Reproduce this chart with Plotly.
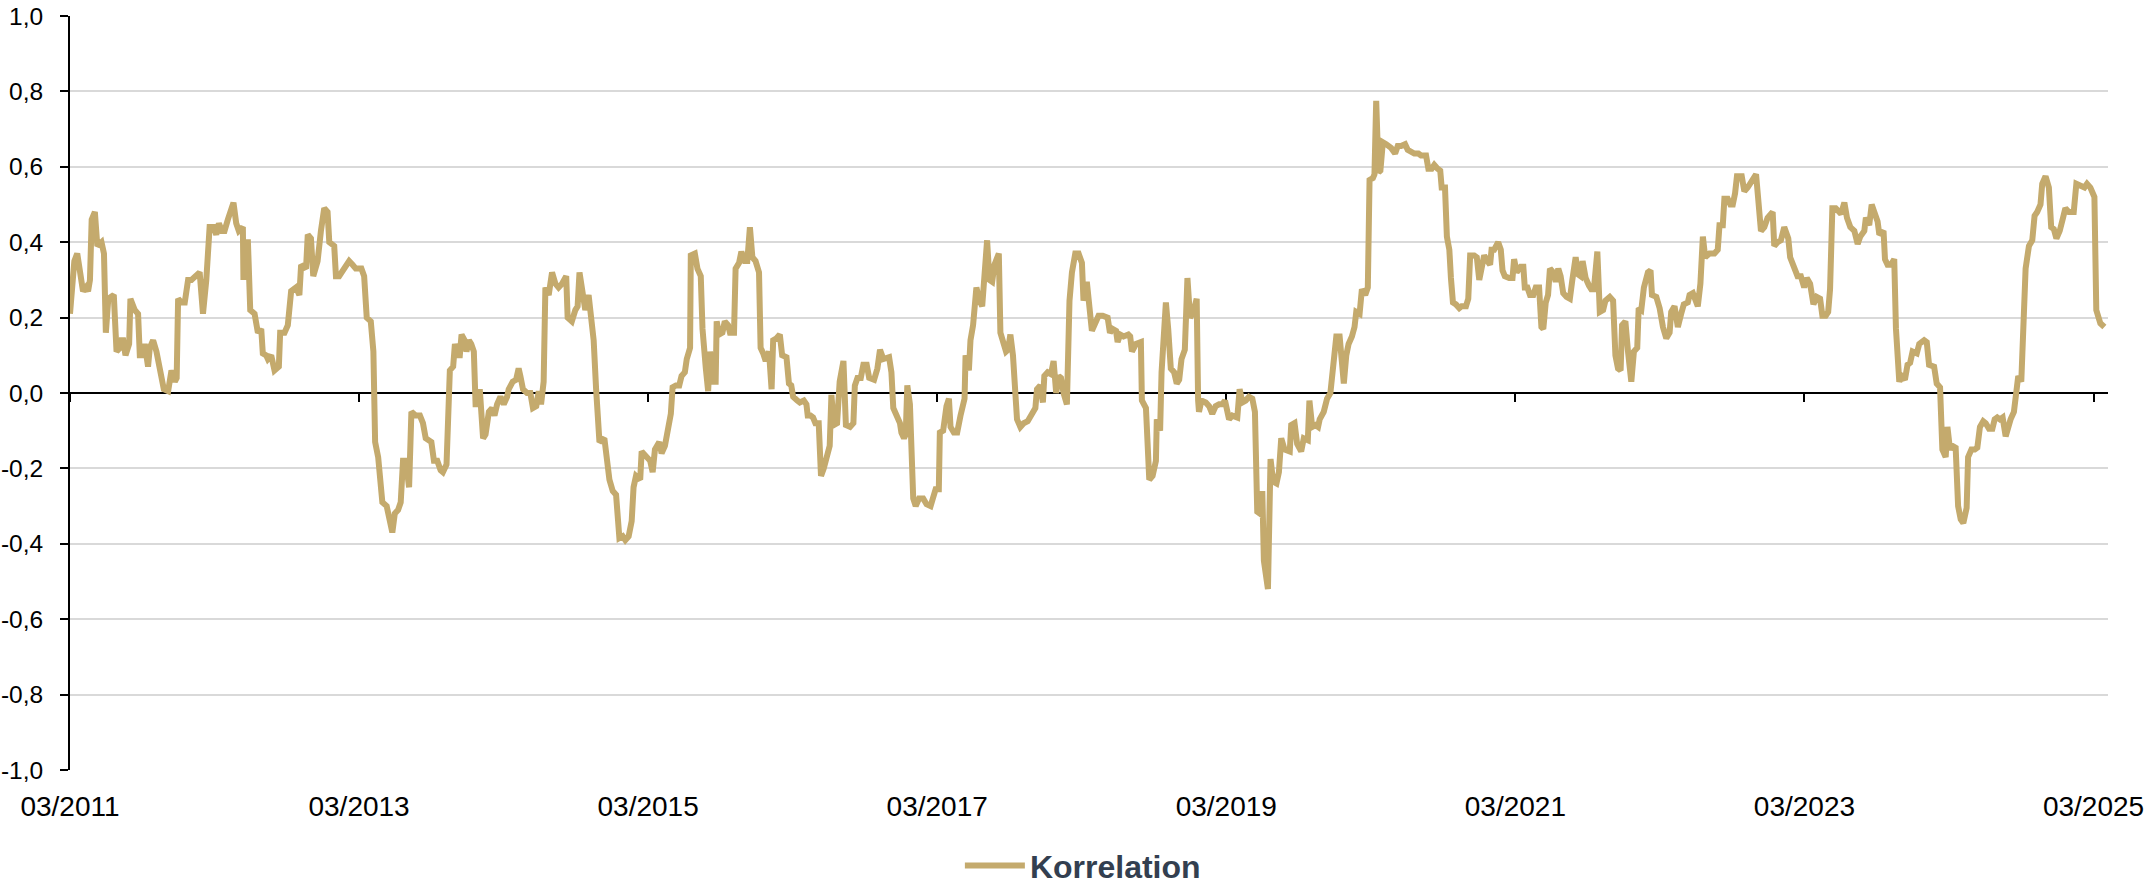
import plotly.graph_objects as go
import pandas as pd

# time in years since 03/2011 and correlation values
t_years = [
0.000,0.012,0.030,0.050,0.068,0.090,0.110,0.125,0.138,0.150,0.172,0.189,0.218,0.235,0.248,0.265,0.303,0.322,0.345,0.356,
0.368,0.384,0.409,0.418,0.448,0.471,0.483,0.506,0.517,0.540,0.552,0.575,0.598,0.626,0.649,0.679,0.702,0.725,0.738,0.748,
0.771,0.794,0.817,0.840,0.863,0.897,0.920,0.943,0.966,0.994,1.012,1.030,1.051,1.069,1.092,1.131,1.150,1.168,1.196,1.200,
1.219,1.231,1.247,1.277,1.300,1.323,1.334,1.357,1.369,1.392,1.415,1.445,1.454,1.484,1.507,1.518,1.530,1.564,1.587,1.599,
1.633,1.645,1.667,1.683,1.713,1.736,1.759,1.782,1.794,1.828,1.840,1.862,1.897,1.931,1.955,1.977,2.016,2.035,2.053,2.081,
2.099,2.111,2.132,2.150,2.161,2.191,2.219,2.230,2.247,2.270,2.288,2.304,2.323,2.346,2.362,2.392,2.421,2.442,2.461,2.500,
2.518,2.541,2.564,2.580,2.605,2.615,2.628,2.651,2.663,2.684,2.697,2.709,2.730,2.743,2.760,2.776,2.794,2.806,2.822,2.835,
2.845,2.858,2.875,2.898,2.920,2.937,2.955,2.978,3.001,3.024,3.035,3.063,3.086,3.104,3.116,3.134,3.162,3.185,3.203,3.226,
3.243,3.259,3.277,3.289,3.312,3.335,3.358,3.380,3.404,3.433,3.443,3.472,3.496,3.512,3.525,3.553,3.565,3.588,3.623,3.640,
3.663,3.697,3.715,3.732,3.755,3.778,3.801,3.824,3.842,3.865,3.886,3.899,3.916,3.945,3.955,3.985,4.014,4.031,4.047,4.077,
4.093,4.116,4.134,4.157,4.169,4.192,4.215,4.231,4.254,4.267,4.290,4.295,4.323,4.341,4.364,4.376,4.399,4.415,4.428,4.445,
4.467,4.474,4.491,4.514,4.530,4.553,4.566,4.594,4.605,4.629,4.645,4.668,4.686,4.704,4.721,4.743,4.767,4.778,4.796,4.813,
4.836,4.854,4.865,4.888,4.911,4.927,4.957,4.974,4.990,5.003,5.031,5.049,5.077,5.095,5.104,5.123,5.141,5.157,5.180,5.196,
5.215,5.238,5.256,5.268,5.284,5.307,5.325,5.351,5.368,5.397,5.420,5.430,5.448,5.471,5.489,5.512,5.529,5.563,5.586,5.604,
5.627,5.667,5.683,5.696,5.719,5.742,5.752,5.770,5.782,5.793,5.811,5.828,5.834,5.851,5.874,5.903,5.926,5.954,5.972,5.989,
6.011,6.018,6.041,6.051,6.064,6.081,6.092,6.115,6.138,6.161,6.189,6.196,6.219,6.230,6.248,6.271,6.288,6.311,6.327,6.345,
6.361,6.380,6.396,6.426,6.437,6.455,6.476,6.490,6.506,6.524,6.541,6.552,6.575,6.598,6.626,6.644,6.662,6.679,6.690,6.713,
6.731,6.741,6.764,6.787,6.805,6.823,6.840,6.856,6.874,6.897,6.915,6.932,6.955,6.978,7.001,7.012,7.035,7.053,7.070,7.093,
7.116,7.145,7.179,7.195,7.214,7.237,7.248,7.266,7.289,7.322,7.335,7.347,7.375,7.409,7.416,7.444,7.467,7.490,7.513,7.519,
7.542,7.552,7.570,7.582,7.598,7.616,7.639,7.657,7.674,7.690,7.713,7.731,7.749,7.766,7.782,7.795,7.805,7.811,7.828,7.858,
7.881,7.903,7.926,7.950,7.973,7.991,8.019,8.042,8.076,8.092,8.111,8.134,8.157,8.180,8.198,8.214,8.232,8.249,8.260,8.288,
8.306,8.324,8.347,8.364,8.380,8.403,8.439,8.449,8.472,8.490,8.518,8.536,8.564,8.575,8.594,8.617,8.635,8.646,8.674,8.697,
8.720,8.738,8.761,8.784,8.813,8.830,8.846,8.869,8.887,8.899,8.922,8.938,8.961,8.979,8.991,9.014,9.025,9.037,9.053,9.066,
9.083,9.106,9.140,9.168,9.186,9.209,9.237,9.255,9.273,9.301,9.329,9.347,9.382,9.398,9.421,9.439,9.462,9.480,9.490,9.513,
9.526,9.543,9.554,9.568,9.589,9.612,9.628,9.658,9.674,9.687,9.715,9.733,9.750,9.761,9.784,9.807,9.825,9.835,9.853,9.881,
9.899,9.911,9.927,9.957,9.980,9.991,10.009,10.037,10.055,10.065,10.083,10.101,10.124,10.141,10.164,10.180,10.193,10.210,10.226,10.239,
10.262,10.279,10.297,10.313,10.331,10.354,10.377,10.394,10.417,10.433,10.451,10.465,10.486,10.509,10.525,10.543,10.567,10.584,10.607,10.623,
10.653,10.676,10.692,10.710,10.728,10.738,10.761,10.779,10.802,10.820,10.843,10.853,10.871,10.889,10.917,10.935,10.945,10.975,10.998,11.021,
11.044,11.067,11.078,11.101,11.124,11.147,11.165,11.193,11.205,11.228,11.244,11.262,11.280,11.297,11.313,11.343,11.377,11.400,11.412,11.435,
11.446,11.469,11.487,11.504,11.520,11.533,11.566,11.584,11.607,11.642,11.665,11.681,11.699,11.722,11.745,11.780,11.791,11.814,11.837,11.860,
11.888,11.901,11.929,11.952,11.975,11.998,12.016,12.039,12.062,12.085,12.108,12.124,12.147,12.164,12.177,12.193,12.216,12.253,12.276,12.294,
12.317,12.345,12.368,12.386,12.414,12.425,12.448,12.465,12.483,12.506,12.518,12.547,12.557,12.575,12.598,12.621,12.633,12.644,12.656,12.672,
12.695,12.713,12.731,12.748,12.777,12.794,12.810,12.828,12.846,12.862,12.897,12.915,12.938,12.954,12.977,12.989,13.007,13.023,13.046,13.063,
13.081,13.099,13.122,13.132,13.155,13.178,13.196,13.214,13.237,13.254,13.277,13.300,13.316,13.334,13.352,13.371,13.392,13.408,13.426,13.449,
13.467,13.479,13.500,13.513,13.530,13.553,13.576,13.592,13.610,13.633,13.645,13.668,13.691,13.707,13.725,13.743,13.766,13.789,13.805,13.829,
13.863,13.881,13.909,13.937,13.955,13.978,14.006,14.019,14.047,14.075,
]

korrelation = [
0.21,0.28,0.35,0.37,0.31,0.27,0.28,0.27,0.30,0.46,0.48,0.39,0.40,0.37,0.16,0.25,0.26,0.11,0.12,0.14,
0.14,0.10,0.13,0.25,0.22,0.21,0.10,0.10,0.13,0.07,0.12,0.14,0.11,0.06,0.01,0.005,0.06,0.03,0.04,0.25,
0.24,0.24,0.30,0.30,0.31,0.32,0.21,0.30,0.44,0.44,0.42,0.45,0.43,0.43,0.46,0.505,0.45,0.43,0.44,0.30,
0.40,0.40,0.22,0.21,0.16,0.17,0.105,0.10,0.09,0.10,0.06,0.07,0.16,0.16,0.18,0.24,0.27,0.28,0.26,0.34,
0.33,0.42,0.41,0.31,0.35,0.43,0.49,0.48,0.40,0.39,0.31,0.31,0.33,0.35,0.34,0.33,0.33,0.31,0.20,0.19,
0.11,-0.13,-0.17,-0.24,-0.29,-0.30,-0.355,-0.37,-0.32,-0.31,-0.29,-0.18,-0.18,-0.25,-0.05,-0.06,-0.06,-0.08,-0.12,-0.13,
-0.18,-0.18,-0.205,-0.21,-0.19,-0.08,0.06,0.07,0.13,0.10,0.10,0.155,0.14,0.11,0.14,0.13,0.11,-0.03,-0.03,0.01,
-0.04,-0.12,-0.11,-0.05,-0.04,-0.06,-0.03,-0.01,-0.03,-0.01,0.01,0.03,0.035,0.065,0.045,0.01,0.0,0.0,-0.04,-0.035,
0.005,-0.03,0.03,0.28,0.26,0.32,0.29,0.28,0.29,0.31,0.20,0.19,0.22,0.23,0.32,0.25,0.22,0.26,0.14,0.01,
-0.13,-0.12,-0.18,-0.23,-0.26,-0.27,-0.385,-0.38,-0.39,-0.38,-0.34,-0.25,-0.22,-0.23,-0.155,-0.17,-0.18,-0.21,-0.15,-0.13,
-0.16,-0.14,-0.10,-0.055,0.015,0.02,0.02,0.045,0.055,0.09,0.12,0.365,0.37,0.33,0.31,0.17,0.065,0.005,0.11,0.03,
0.03,0.19,0.155,0.16,0.19,0.18,0.16,0.16,0.33,0.345,0.375,0.35,0.35,0.44,0.36,0.35,0.32,0.12,0.105,0.085,
0.11,0.01,0.14,0.145,0.155,0.10,0.095,0.025,0.02,-0.01,-0.02,-0.025,-0.02,-0.03,-0.06,-0.06,-0.065,-0.08,-0.08,-0.22,
-0.20,-0.165,-0.14,-0.005,-0.085,-0.08,0.03,0.085,-0.085,-0.09,-0.08,0.02,0.04,0.04,0.075,0.075,0.04,0.035,0.065,0.115,
0.09,0.095,0.055,-0.04,-0.06,-0.08,-0.105,-0.12,-0.11,0.02,-0.03,-0.18,-0.28,-0.30,-0.28,-0.28,-0.295,-0.30,-0.28,-0.255,
-0.255,-0.105,-0.10,-0.065,-0.035,-0.015,-0.09,-0.105,-0.105,-0.06,-0.015,0.10,0.06,0.14,0.18,0.28,0.25,0.23,0.32,0.405,
0.30,0.295,0.34,0.37,0.16,0.135,0.11,0.115,0.155,0.10,-0.005,-0.07,-0.09,-0.08,-0.075,-0.06,-0.045,-0.04,0.01,0.02,
-0.025,0.045,0.055,0.05,0.085,0.0,0.045,0.04,0.0,-0.03,0.245,0.32,0.37,0.37,0.345,0.245,0.295,0.21,0.165,0.185,
0.205,0.205,0.20,0.16,0.17,0.165,0.135,0.155,0.15,0.155,0.15,0.11,0.13,0.135,-0.02,-0.04,-0.23,-0.22,-0.18,-0.07,
-0.10,0.055,0.19,0.24,0.17,0.065,0.055,0.025,0.035,0.09,0.115,0.305,0.20,0.21,0.23,0.25,-0.02,-0.05,-0.02,-0.025,
-0.035,-0.055,-0.035,-0.03,-0.03,-0.02,-0.07,-0.06,-0.065,0.01,-0.025,-0.02,-0.01,-0.015,-0.05,-0.315,-0.32,-0.26,-0.445,-0.52,
-0.175,-0.235,-0.24,-0.21,-0.12,-0.15,-0.155,-0.085,-0.08,-0.135,-0.155,-0.12,-0.125,-0.02,-0.09,-0.085,-0.09,-0.07,-0.05,-0.015,
0.0,0.065,0.15,0.15,0.025,0.10,0.13,0.15,0.175,0.215,0.21,0.275,0.26,0.28,0.565,0.57,0.58,0.775,0.585,0.59,
0.665,0.66,0.65,0.635,0.655,0.655,0.66,0.645,0.64,0.635,0.635,0.63,0.63,0.595,0.595,0.605,0.595,0.59,0.545,0.545,
0.415,0.38,0.305,0.24,0.235,0.225,0.23,0.23,0.25,0.365,0.365,0.36,0.30,0.33,0.365,0.35,0.34,0.38,0.38,0.40,
0.38,0.325,0.31,0.305,0.305,0.355,0.32,0.335,0.335,0.28,0.28,0.26,0.26,0.28,0.28,0.175,0.17,0.24,0.26,0.33,
0.32,0.295,0.33,0.31,0.265,0.255,0.25,0.30,0.36,0.315,0.31,0.35,0.305,0.285,0.275,0.275,0.375,0.215,0.22,0.245,
0.255,0.245,0.10,0.065,0.06,0.18,0.19,0.11,0.03,0.11,0.12,0.225,0.22,0.28,0.32,0.325,0.26,0.255,0.225,0.175,
0.145,0.16,0.215,0.23,0.175,0.21,0.235,0.24,0.26,0.265,0.245,0.23,0.29,0.415,0.36,0.37,0.37,0.38,0.445,0.445,
0.515,0.515,0.50,0.50,0.53,0.575,0.575,0.535,0.545,0.57,0.58,0.51,0.43,0.44,0.465,0.48,0.39,0.40,0.405,0.44,
0.41,0.36,0.33,0.31,0.31,0.28,0.305,0.29,0.235,0.255,0.25,0.205,0.205,0.215,0.275,0.49,0.49,0.475,0.505,0.465,
0.44,0.43,0.395,0.415,0.43,0.465,0.445,0.50,0.48,0.455,0.42,0.43,0.355,0.34,0.34,0.355,0.17,0.055,0.03,0.045,
0.035,0.075,0.08,0.11,0.105,0.13,0.135,0.14,0.135,0.075,0.07,0.025,0.015,-0.15,-0.17,-0.09,-0.15,-0.14,-0.145,-0.30,
-0.335,-0.345,-0.305,-0.17,-0.15,-0.15,-0.145,-0.09,-0.075,-0.08,-0.095,-0.095,-0.07,-0.065,-0.07,-0.065,-0.115,-0.085,-0.07,-0.05,
0.01,0.045,0.03,0.175,0.33,0.39,0.405,0.47,0.48,0.50,0.555,0.575,0.545,0.44,0.435,0.41,0.43,0.465,0.49,0.48,
0.48,0.555,0.55,0.545,0.555,0.545,0.52,0.22,0.185,0.175,
]

x_tick_years = [0, 2, 4, 6, 8, 10, 12, 14]
x_tick_labels = ["03/2011", "03/2013", "03/2015", "03/2017", "03/2019", "03/2021", "03/2023", "03/2025"]
y_tick_values = [-1.0, -0.8, -0.6, -0.4, -0.2, 0.0, 0.2, 0.4, 0.6, 0.8, 1.0]
y_tick_labels = ["-1,0", "-0,8", "-0,6", "-0,4", "-0,2", "0,0", "0,2", "0,4", "0,6", "0,8", "1,0"]
series_name = "Korrelation"

start = pd.Timestamp("2011-03-01")
def to_date(t):
    return start + pd.Timedelta(days=t * 365.25)

dates = [to_date(t) for t in t_years]
tick_dates = [to_date(t) for t in x_tick_years]
x_range = [to_date(0), to_date(14.1)]

LINE = "#C4AA6D"
FONT = "Liberation Sans, Arial, sans-serif"

fig = go.Figure()
fig.add_trace(go.Scatter(
    x=dates, y=korrelation, mode="lines", name="<b>" + series_name + "</b>",
    line=dict(color=LINE, width=6), hoverinfo="x+y",
))
# helper trace so the crossing axis (at y = 0) is drawn
fig.add_trace(go.Scatter(x=[dates[0]], y=[None], xaxis="x2", showlegend=False, hoverinfo="skip"))

fig.update_layout(
    width=2146, height=886,
    margin=dict(l=70, r=38, t=16, b=116, autoexpand=False),
    paper_bgcolor="white", plot_bgcolor="white",
    font=dict(family=FONT, color="black"),
    showlegend=True,
    legend=dict(orientation="h", x=0.497, xanchor="center", y=-0.127, yanchor="middle",
                itemwidth=60,
                font=dict(size=32, color="#333F50", family=FONT)),
    xaxis=dict(type="date", range=x_range, tickvals=tick_dates, ticktext=x_tick_labels,
               showgrid=False, zeroline=False, showline=False, automargin=False,
               ticks="outside", ticklen=11, tickcolor="rgba(0,0,0,0)",
               ticklabeloverflow="allow",
               tickfont=dict(size=28, color="black", family=FONT)),
    xaxis2=dict(type="date", range=x_range, tickvals=tick_dates, overlaying="x",
                anchor="free", position=0.5, side="bottom", automargin=False,
                showgrid=False, zeroline=False, showline=True, linecolor="black", linewidth=2,
                ticks="outside", ticklen=8, tickwidth=2, tickcolor="black",
                showticklabels=False, layer="below traces"),
    yaxis=dict(range=[-1, 1], tickvals=y_tick_values, ticktext=y_tick_labels, automargin=False,
               showgrid=True, gridcolor="#D9D9D9", gridwidth=2, zeroline=False,
               showline=True, linecolor="black", linewidth=2,
               ticks="outside", ticklen=8, tickwidth=2, tickcolor="black",
               ticklabelstandoff=12, ticklabeloverflow="allow", layer="below traces",
               tickfont=dict(size=24.5, color="black", family=FONT)),
)

# remove the browser's default page margin so the figure fills the window exactly
fig.write_html("out.html", config={"displayModeBar": False},
               post_script="document.body.style.margin='0px';")
